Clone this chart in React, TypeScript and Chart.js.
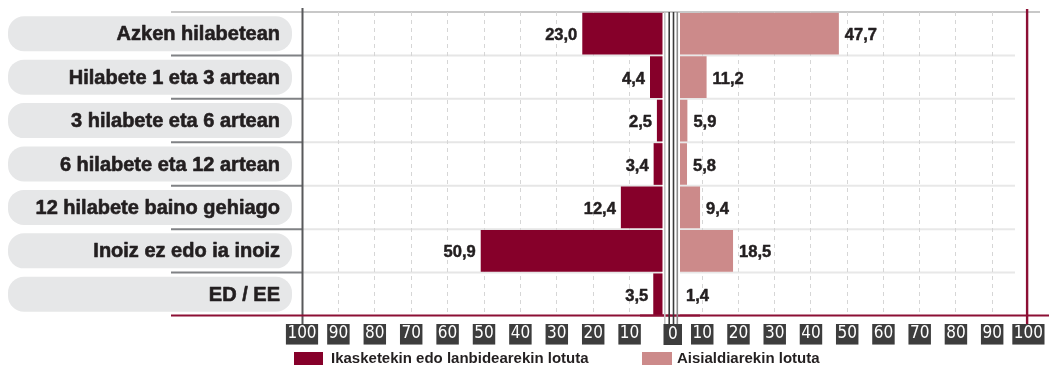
import React, { useEffect, useRef } from "react";
import { Chart, registerables } from "chart.js";

Chart.register(...registerables);

// ---------- data ----------
const categories = [
  "Azken hilabetean",
  "Hilabete 1 eta 3 artean",
  "3 hilabete eta 6 artean",
  "6 hilabete eta 12 artean",
  "12 hilabete baino gehiago",
  "Inoiz ez edo ia inoiz",
  "ED / EE",
];
const studyWorkValues = [23.0, 4.4, 2.5, 3.4, 12.4, 50.9, 3.5];
const leisureValues = [47.7, 11.2, 5.9, 5.8, 9.4, 18.5, 1.4];
const seriesNames = ["Ikasketekin edo lanbidearekin lotuta", "Aisialdiarekin lotuta"];
const tickValues = [0, 10, 20, 30, 40, 50, 60, 70, 80, 90, 100];

// ---------- styles ----------
const DARK = "#86002a";
const PINK = "#cc8a8a";
const RED_LINE = "#8c0f34";
const TEXT = "#231f20";
const TICK_BG = "#3d3d3d";
const SANS = "'Liberation Sans', Arial, Helvetica, sans-serif";
const NARROW = "'Liberation Sans Narrow', 'Arial Narrow', 'DejaVu Sans Condensed', sans-serif";

const fmt = (v: number) => v.toFixed(1).replace(".", ",");

function hline(ctx: CanvasRenderingContext2D, x1: number, x2: number, y: number, color: string, w: number) {
  ctx.strokeStyle = color;
  ctx.lineWidth = w;
  ctx.beginPath();
  ctx.moveTo(x1, y);
  ctx.lineTo(x2, y);
  ctx.stroke();
}
function vline(ctx: CanvasRenderingContext2D, x: number, y1: number, y2: number, color: string, w: number) {
  ctx.strokeStyle = color;
  ctx.lineWidth = w;
  ctx.beginPath();
  ctx.moveTo(x, y1);
  ctx.lineTo(x, y2);
  ctx.stroke();
}
function heavyText(ctx: CanvasRenderingContext2D, text: string, x: number, y: number, stroke: number) {
  ctx.fillText(text, x, y);
  ctx.strokeStyle = ctx.fillStyle as string;
  ctx.lineWidth = stroke;
  ctx.lineJoin = "round";
  ctx.strokeText(text, x, y);
}

function xScale(reverse: boolean) {
  return {
    type: "linear",
    min: 0,
    max: 100,
    reverse,
    afterBuildTicks: (s: any) => {
      s.ticks = tickValues.map((v) => ({ value: v }));
    },
    afterFit: (s: any) => {
      s.height = 53;
    },
    border: { display: false, dash: [4, 4] },
    grid: {
      drawTicks: false,
      lineWidth: 1,
      color: (c: any) =>
        c.tick && c.tick.value > 0 && c.tick.value < 100 ? "#d6d6d6" : "rgba(0,0,0,0)",
    },
    ticks: {
      autoSkip: false,
      maxRotation: 0,
      padding: 8,
      color: "#ffffff",
      font: { family: NARROW, size: 17, lineHeight: 1.15 },
      callback: (v: any) => (v === 0 ? "" : String(v)),
      showLabelBackdrop: true,
      backdropColor: (c: any) => (c.tick && c.tick.value === 0 ? "rgba(0,0,0,0)" : TICK_BG),
      backdropPadding: { top: 0, bottom: 1, left: 1.5, right: 1.5 },
    },
  };
}

const leftDecor = {
  id: "leftDecor",
  beforeDraw(chart: any) {
    const { ctx, chartArea: ca, scales } = chart;
    const y = scales.y;
    ctx.save();
    hline(ctx, 171, 700, ca.top, "#c8c8c8", 2);
    for (let i = 0; i < categories.length; i++) {
      const cy = y.getPixelForValue(i);
      ctx.fillStyle = "#e6e7e8";
      ctx.beginPath();
      ctx.roundRect(8, cy - 17.5, 284, 35, 16);
      ctx.fill();
      ctx.fillStyle = TEXT;
      ctx.font = `bold 20px ${SANS}`;
      ctx.textAlign = "right";
      ctx.textBaseline = "middle";
      heavyText(ctx, categories[i], 280, cy + 1, 0.6);
    }
    for (let i = 1; i < categories.length; i++) {
      const by = (y.getPixelForValue(i - 1) + y.getPixelForValue(i)) / 2;
      hline(ctx, 171, 302, by, "#808285", 2);
      hline(ctx, 302, 662, by, "#e6e6e6", 2);
    }
    ctx.restore();
  },
  afterDatasetsDraw(chart: any) {
    const { ctx } = chart;
    const meta = chart.getDatasetMeta(0);
    ctx.save();
    ctx.fillStyle = TEXT;
    ctx.font = `bold 16.5px ${SANS}`;
    ctx.textAlign = "right";
    ctx.textBaseline = "middle";
    meta.data.forEach((el: any, i: number) => {
      const x = Math.min(el.x, 662.5) - 5;
      heavyText(ctx, fmt(studyWorkValues[i]), x, el.y + 2, 0.5);
    });
    ctx.restore();
  },
  afterDraw(chart: any) {
    const { ctx, chartArea: ca, scales } = chart;
    const x0 = scales.x.getPixelForValue(0) + 5;
    const x100 = scales.x.getPixelForValue(100);
    ctx.save();
    vline(ctx, x100 + 0.5, 8, 324, "#58595b", 2);
    // center gap
    ctx.fillStyle = "#ffffff";
    ctx.fillRect(x0 - 8.5, ca.top + 1, 17.5, ca.bottom - ca.top - 2.5);
    hline(ctx, 171, 700, ca.bottom - 0.5, RED_LINE, 2);
    vline(ctx, x0 - 6.2, ca.top, 324, "#c4c4c4", 1.6);
    vline(ctx, x0 - 1.8, ca.top, 324, "#3a3a3a", 1.6);
    vline(ctx, x0 + 2.5, ca.top, 324, "#3a3a3a", 1.6);
    vline(ctx, x0 + 6.3, ca.top, 324, "#8c8c8c", 1.6);
    // zero tick box
    ctx.fillStyle = TICK_BG;
    ctx.fillRect(x0 - 7.5, 324, 18.5, 21);
    ctx.fillStyle = "#ffffff";
    ctx.font = `17px ${NARROW}`;
    ctx.textAlign = "center";
    ctx.textBaseline = "middle";
    ctx.fillText(String(tickValues[0]), x0 + 1.75, 335);
    ctx.restore();
  },
};

const rightDecor = {
  id: "rightDecor",
  beforeDraw(chart: any) {
    const { ctx, chartArea: ca, scales } = chart;
    const y = scales.y;
    ctx.save();
    hline(ctx, 0, 400, ca.top, "#c8c8c8", 2);
    for (let i = 1; i < categories.length; i++) {
      const by = (y.getPixelForValue(i - 1) + y.getPixelForValue(i)) / 2;
      hline(ctx, 40, 375, by, "#e8e8e8", 2);
    }
    ctx.restore();
  },
  afterDatasetsDraw(chart: any) {
    const { ctx } = chart;
    const meta = chart.getDatasetMeta(0);
    ctx.save();
    ctx.fillStyle = TEXT;
    ctx.font = `bold 16.5px ${SANS}`;
    ctx.textAlign = "left";
    ctx.textBaseline = "middle";
    meta.data.forEach((el: any, i: number) => {
      const x = Math.max(el.x, 40) + 6;
      heavyText(ctx, fmt(leisureValues[i]), x, el.y + 2, 0.5);
    });
    ctx.restore();
  },
  afterDraw(chart: any) {
    const { ctx, chartArea: ca, scales } = chart;
    const x100 = scales.x.getPixelForValue(100);
    ctx.save();
    hline(ctx, 0, 409, ca.bottom - 0.5, RED_LINE, 2);
    vline(ctx, x100 - 1.3, 9, 324, RED_LINE, 2.4);
    ctx.restore();
  },
};

export default function App() {
  const leftRef = useRef<HTMLCanvasElement>(null);
  const rightRef = useRef<HTMLCanvasElement>(null);

  useEffect(() => {
    const left = new Chart(leftRef.current as HTMLCanvasElement, {
      type: "bar",
      data: {
        labels: categories,
        datasets: [
          {
            label: seriesNames[0],
            data: studyWorkValues,
            backgroundColor: DARK,
            borderWidth: 0,
            barPercentage: 1,
            categoryPercentage: 0.96,
          },
        ],
      },
      options: {
        indexAxis: "y",
        animation: false,
        responsive: false,
        layout: { padding: { left: 0, right: 34, top: 12, bottom: 0 } },
        plugins: { legend: { display: false }, tooltip: { enabled: false } },
        scales: {
          x: xScale(true) as any,
          y: {
            display: true,
            ticks: { display: false },
            grid: { display: false },
            border: { display: false },
            afterFit: (s: any) => {
              s.width = 302;
            },
          },
        },
      },
      plugins: [leftDecor],
    } as any);

    const right = new Chart(rightRef.current as HTMLCanvasElement, {
      type: "bar",
      data: {
        labels: categories,
        datasets: [
          {
            label: seriesNames[1],
            data: leisureValues,
            backgroundColor: PINK,
            borderWidth: 0,
            barPercentage: 1,
            categoryPercentage: 0.96,
          },
        ],
      },
      options: {
        indexAxis: "y",
        animation: false,
        responsive: false,
        layout: { padding: { left: 26, right: 13, top: 12, bottom: 0 } },
        plugins: { legend: { display: false }, tooltip: { enabled: false } },
        scales: {
          x: xScale(false) as any,
          y: { display: false },
        },
      },
      plugins: [rightDecor],
    } as any);

    return () => {
      left.destroy();
      right.destroy();
    };
  }, []);

  const legendText: React.CSSProperties = {
    position: "absolute",
    top: 349,
    font: `bold 15px ${SANS}`,
    lineHeight: "18px",
    color: TEXT,
    whiteSpace: "nowrap",
  };

  return (
    <div
      style={{
        position: "fixed",
        left: 0,
        top: 0,
        width: 1051,
        height: 369,
        background: "#ffffff",
        overflow: "hidden",
      }}
    >
      <canvas
        ref={rightRef}
        width={411}
        height={369}
        style={{ position: "absolute", left: 640, top: 0, zIndex: 1 }}
      />
      <canvas
        ref={leftRef}
        width={700}
        height={369}
        style={{ position: "absolute", left: 0, top: 0, zIndex: 2 }}
      />
      <div style={{ position: "absolute", left: 294, top: 352, width: 29, height: 13, background: DARK, zIndex: 3 }} />
      <div style={{ ...legendText, left: 331, zIndex: 3 }}>{seriesNames[0]}</div>
      <div style={{ position: "absolute", left: 642, top: 352, width: 30, height: 13, background: PINK, zIndex: 3 }} />
      <div style={{ ...legendText, left: 677, zIndex: 3 }}>{seriesNames[1]}</div>
    </div>
  );
}
